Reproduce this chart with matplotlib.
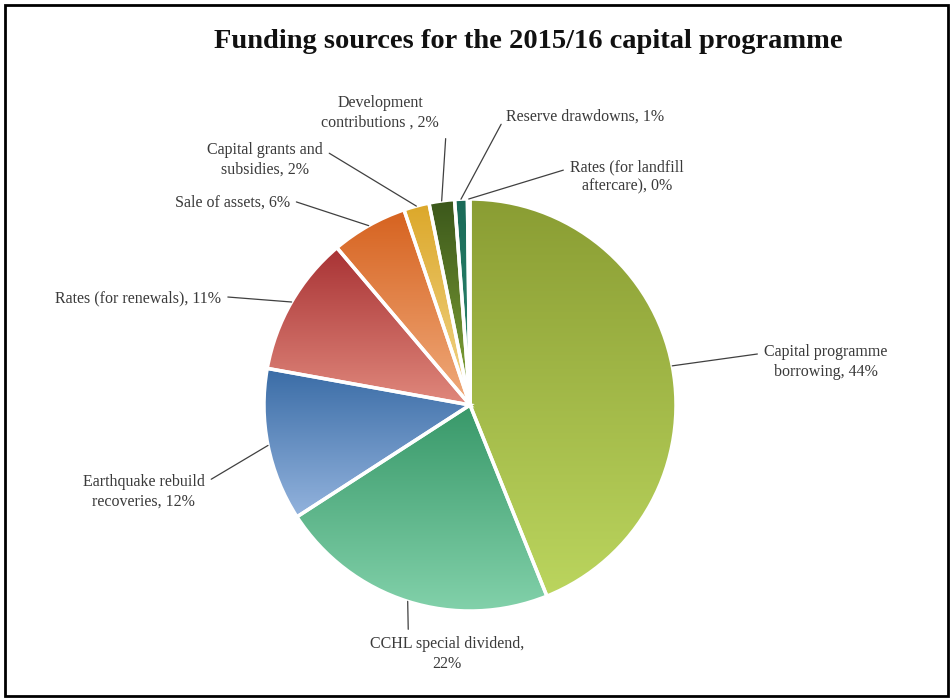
import numpy as np
import matplotlib
matplotlib.use("Agg")
import matplotlib.pyplot as plt
from matplotlib.colors import LinearSegmentedColormap
from matplotlib.patches import Rectangle

# funding shares (% of the 2015/16 capital programme)
templates = [
    "Capital programme\nborrowing, {}%",
    "CCHL special dividend,\n{}%",
    "Earthquake rebuild\nrecoveries, {}%",
    "Rates (for renewals), {}%",
    "Sale of assets, {}%",
    "Capital grants and\nsubsidies, {}%",
    "Development\ncontributions , {}%",
    "Reserve drawdowns, {}%",
    "Rates (for landfill\naftercare), {}%",
]
shares = [44, 22, 12, 11, 6, 2, 2, 1, 0.2]

top_colours = ["#8a9d33", "#389869", "#3a6ca6", "#a83234", "#d6621f",
               "#dca82a", "#3b571b", "#1a6a58", "#3d6fa0"]
bottom_colours = ["#bbd55e", "#82d1aa", "#93b3dd", "#e0887c", "#f0ab7c",
                  "#f2d68c", "#86a838", "#2f8c72", "#8fb0d8"]

# where each label block sits, and which point of it the leader line leaves from
label_xy = [(1.728, 0.209), (-0.112, -1.209), (-1.583, -0.422), (-1.612, 0.519),
            (-1.155, 0.981), (-0.995, 1.189), (-0.437, 1.417), (0.558, 1.398),
            (0.762, 1.107)]
label_rel = [(0.0, 0.75), (0.25, 1.0), (1.0, 0.75), (1.0, 0.6), (1.0, 0.7),
             (1.0, 0.8), (1.06, -0.1), (0.0, 0.6), (0.0, 0.75)]

plt.rcParams["font.family"] = ["Liberation Serif", "DejaVu Serif"]

fig = plt.figure(figsize=(9.53, 7.0), dpi=100)
ax = fig.add_axes([0, 0, 1, 1])

wedges, _ = ax.pie(shares, startangle=90, counterclock=False, radius=1,
                   wedgeprops=dict(edgecolor="white", linewidth=2.5))

for w, c0, c1 in zip(wedges, top_colours, bottom_colours):
    ang = np.radians(np.linspace(w.theta1, w.theta2, 60))
    xs = np.append(np.cos(ang), 0)
    ys = np.append(np.sin(ang), 0)
    cmap = LinearSegmentedColormap.from_list("", [c0, c1])
    grad = np.linspace(0, 1, 256).reshape(-1, 1)
    im = ax.imshow(grad, cmap=cmap, origin="upper", aspect="auto",
                   extent=(xs.min(), xs.max(), ys.min(), ys.max()), zorder=1)
    im.set_clip_path(w)
    w.set_facecolor("none")
    w.set_zorder(2)

for w, tpl, share, xy, rel in zip(wedges, templates, shares, label_xy, label_rel):
    mid = np.radians((w.theta1 + w.theta2) / 2)
    ax.annotate(tpl.format(round(share)), xy=(np.cos(mid), np.sin(mid)),
                xytext=xy, ha="center", va="center", fontsize=11.5,
                color="#3a3a3a", linespacing=1.3,
                arrowprops=dict(arrowstyle="-", color="#404040", lw=0.9,
                                shrinkA=3, shrinkB=0, relpos=rel))

ax.set_xlim(-470 / 206, 483 / 206)
ax.set_ylim(-295 / 206, 405 / 206)
ax.axis("off")

fig.text(528 / 953, 1 - 42 / 700, "Funding sources for the 2015/16 capital programme",
         ha="center", va="center", fontsize=20.5, fontweight="bold", color="#111111")

fig.patches.append(Rectangle((5 / 953, 4 / 700), 943 / 953, 691 / 700,
                             transform=fig.transFigure, fill=False,
                             edgecolor="black", linewidth=2))

fig.savefig("out.png", dpi=100)
